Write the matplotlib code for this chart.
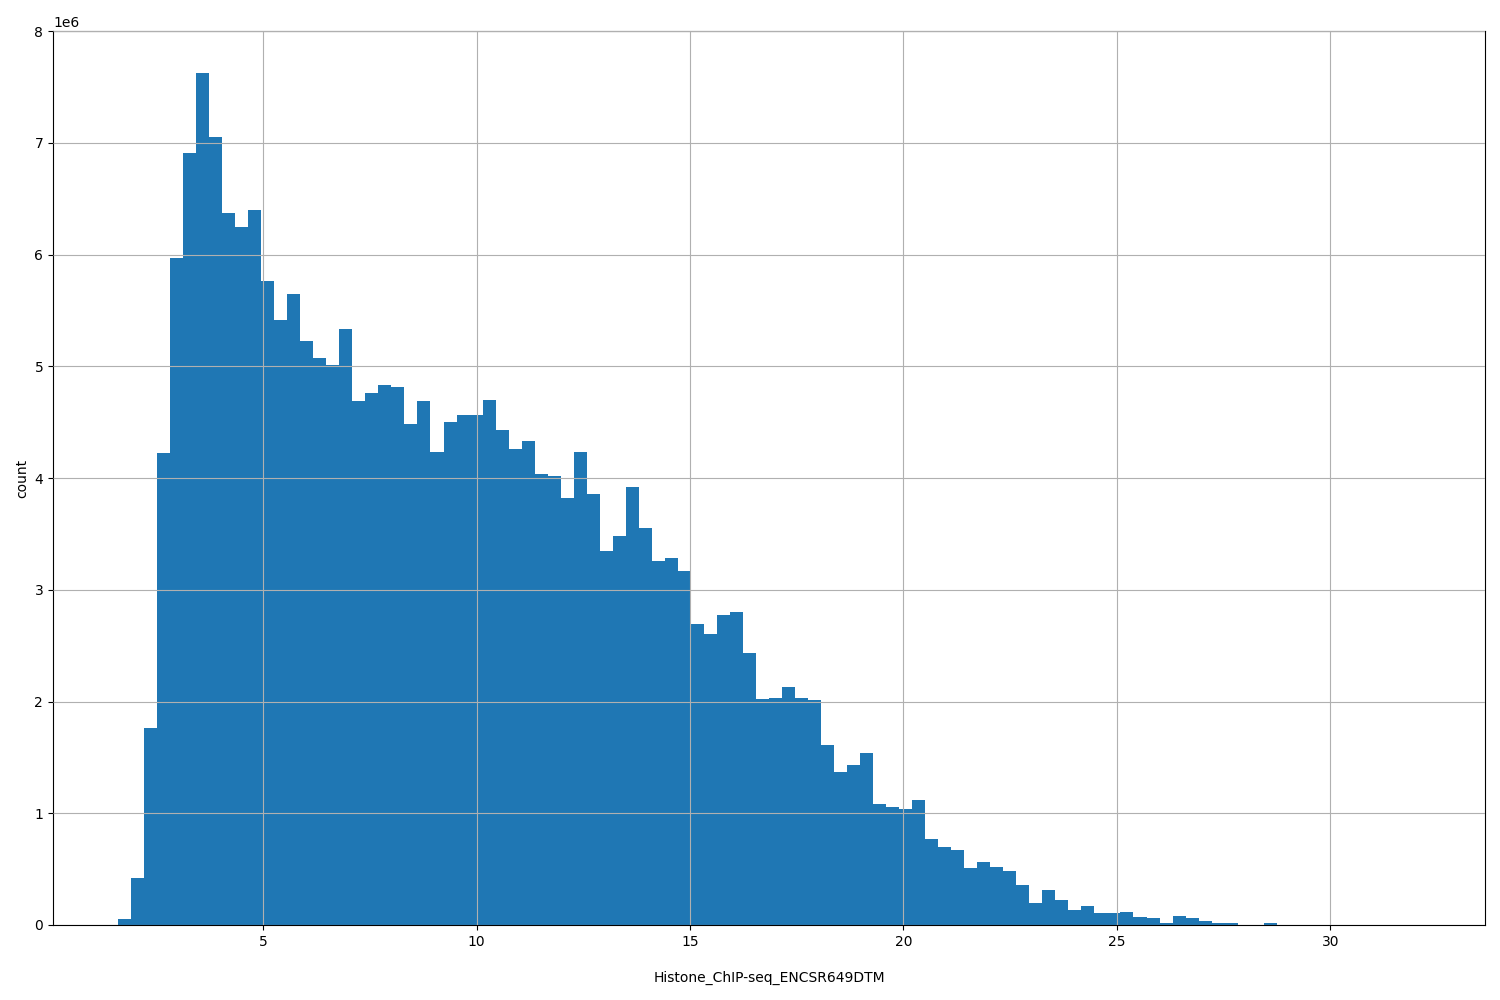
import numpy as np
from matplotlib import pyplot as plt

# histogram of signal values, 100 equal bins between min and max
x_min = 1.60
x_max = 32.10
n_bins = 100

# counts per bin, in millions
counts_m = [
    0.05, 0.42, 1.76, 4.22, 5.97, 6.91, 7.62, 7.05, 6.37, 6.25,
    6.40, 5.76, 5.41, 5.65, 5.23, 5.07, 5.01, 5.33, 4.69, 4.76,
    4.83, 4.81, 4.48, 4.69, 4.23, 4.50, 4.56, 4.56, 4.70, 4.43,
    4.26, 4.33, 4.04, 4.02, 3.82, 4.23, 3.86, 3.35, 3.48, 3.92,
    3.55, 3.26, 3.28, 3.17, 2.69, 2.60, 2.77, 2.80, 2.43, 2.02,
    2.03, 2.13, 2.03, 2.01, 1.61, 1.37, 1.43, 1.54, 1.08, 1.06,
    1.04, 1.12, 0.77, 0.70, 0.67, 0.51, 0.56, 0.52, 0.48, 0.36,
    0.20, 0.31, 0.22, 0.13, 0.17, 0.11, 0.11, 0.12, 0.07, 0.06,
    0.02, 0.08, 0.06, 0.035, 0.018, 0.018, 0.0, 0.0, 0.018, 0.002,
    0.001, 0.001, 0.0, 0.0, 0.001, 0.0, 0.0, 0.0, 0.0, 0.0002,
]

xlabel = 'Histone_ChIP-seq_ENCSR649DTM'
ylabel = 'count'

edges = np.linspace(x_min, x_max, n_bins + 1)
counts = np.array(counts_m) * 1e6

fig = plt.figure(figsize=(15, 10), dpi=100)
ax = fig.add_axes([0.0353, 0.075, 0.9547, 0.894])
ax.hist(edges[:-1], bins=edges, weights=counts, color='#1f77b4')
ax.grid(True)
ax.set_axisbelow(False)
ax.set_ylim(0, 8e6)
ax.set_xlabel(xlabel, labelpad=16)
ax.set_ylabel(ylabel)

plt.savefig('out.png', dpi=100)
